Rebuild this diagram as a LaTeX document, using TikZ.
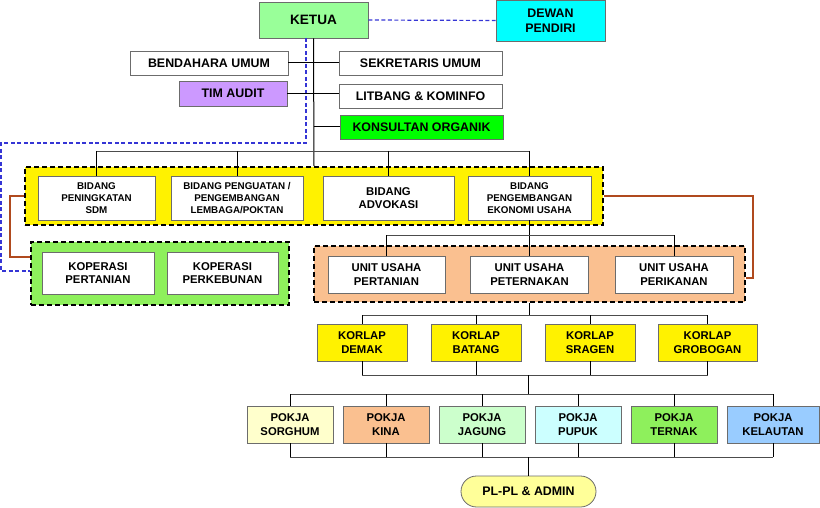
\documentclass[tikz,border=0pt]{standalone}
\usepackage{fontspec}
\setmainfont{Liberation Sans}
\usetikzlibrary{positioning}

\definecolor{ketuagreen}{HTML}{99FF99}
\definecolor{dewancyan}{HTML}{00FFFF}
\definecolor{auditpurple}{HTML}{CC99FF}
\definecolor{konsgreen}{HTML}{00FF00}
\definecolor{koplime}{HTML}{8EF05C}
\definecolor{peach}{HTML}{FAC090}
\definecolor{sorghum}{HTML}{FFFFCC}
\definecolor{jagung}{HTML}{CCFFCC}
\definecolor{pupuk}{HTML}{CCFFFF}
\definecolor{kelautan}{HTML}{99CCFF}
\definecolor{plyellow}{HTML}{FFFF99}
\definecolor{linkbrown}{HTML}{B04A1E}
\definecolor{auditblue}{HTML}{3535D5}

\tikzset{
  box/.style={draw=gray!85!black, fill=white, line width=0.8pt, align=center,
    inner sep=0pt, font=\bfseries\fontsize{11.3}{13.5}\selectfont},
  bigtext/.style={font=\bfseries\fontsize{12.4}{15}\selectfont},
  smalltext/.style={font=\bfseries\fontsize{9.8}{12}\selectfont},
  group/.style={draw=black, line width=1.6pt, dash pattern=on 5pt off 3pt, inner sep=0pt},
  bar/.style={draw=gray!60!black, line width=0.8pt},
  spine/.style={draw=black, line width=1pt},
  dewanlink/.style={draw=auditblue, line width=1.2pt, dash pattern=on 4pt off 2.5pt},
  kinlink/.style={draw=linkbrown, line width=1.2pt}
}

\begin{document}
\begin{tikzpicture}[x=1pt, y=-1pt]
    \useasboundingbox (0,0) rectangle (820,508);

    % Ketua and staff
    \node[box, fill=ketuagreen, minimum width=109pt, minimum height=36pt,
      font=\bfseries\fontsize{13.6}{16}\selectfont] (ketua) at (313.5,20) {KETUA};
    \node[box, bigtext, fill=dewancyan, minimum width=109pt, minimum height=41pt] (dewan) at (550.5,20.5) {DEWAN\\PENDIRI};
    \node[box, bigtext, minimum width=158pt, minimum height=24pt] (bendahara) at (209,63) {BENDAHARA UMUM};
    \node[box, bigtext, minimum width=163pt, minimum height=24pt] (sekretaris) at (420.5,63) {SEKRETARIS UMUM};
    \node[box, bigtext, fill=auditpurple, minimum width=108pt, minimum height=25pt] (timaudit) at (233,93.5) {TIM AUDIT};
    \node[box, bigtext, minimum width=163pt, minimum height=24pt] (litbang) at (420.5,96) {LITBANG \& KOMINFO};
    \node[box, bigtext, fill=konsgreen, minimum width=163pt, minimum height=24pt] (konsultan) at (421.5,127) {KONSULTAN ORGANIK};

    % Bidang
    \node[group, fill=yellow, minimum width=578pt, minimum height=58pt] (bidanggroup) at (314,196) {};
    \node[box, smalltext, minimum width=117pt, minimum height=44pt] (b1) at (96.5,198) {BIDANG\\PENINGKATAN\\SDM};
    \node[box, smalltext, minimum width=132pt, minimum height=44pt] (b2) at (237,198) {BIDANG PENGUATAN /\\PENGEMBANGAN\\LEMBAGA/POKTAN};
    \node[box, minimum width=131pt, minimum height=44pt] (b3) at (388.5,198) {BIDANG\\ADVOKASI};
    \node[box, smalltext, minimum width=123pt, minimum height=44pt] (b4) at (529.5,198) {BIDANG\\PENGEMBANGAN\\EKONOMI USAHA};

    % Koperasi
    \node[group, fill=koplime, minimum width=258pt, minimum height=63pt] (kopgroup) at (160,273.5) {};
    \node[box, minimum width=112pt, minimum height=42pt] (kop1) at (98,273) {KOPERASI\\PERTANIAN};
    \node[box, minimum width=111pt, minimum height=42pt] (kop2) at (222.5,273) {KOPERASI\\PERKEBUNAN};

    % Unit usaha
    \node[group, fill=peach, minimum width=431pt, minimum height=56pt] (unitgroup) at (529.5,274) {};
    \node[box, minimum width=117pt, minimum height=37pt] (uu1) at (386.5,274.5) {UNIT USAHA\\PERTANIAN};
    \node[box, minimum width=118pt, minimum height=37pt] (uu2) at (529.5,274.5) {UNIT USAHA\\PETERNAKAN};
    \node[box, minimum width=118pt, minimum height=37pt] (uu3) at (674,274.5) {UNIT USAHA\\PERIKANAN};

    % Korlap
    \node[box, fill=yellow, minimum width=90pt, minimum height=37pt] (k1) at (362,342.5) {KORLAP\\DEMAK};
    \node[box, fill=yellow, minimum width=90pt, minimum height=37pt] (k2) at (476,342.5) {KORLAP\\BATANG};
    \node[box, fill=yellow, minimum width=90pt, minimum height=37pt] (k3) at (590,342.5) {KORLAP\\SRAGEN};
    \node[box, fill=yellow, minimum width=99pt, minimum height=37pt] (k4) at (707.5,342.5) {KORLAP\\GROBOGAN};

    % Pokja
    \node[box, fill=sorghum, minimum width=86pt, minimum height=37pt] (p1) at (290,424.5) {POKJA\\SORGHUM};
    \node[box, fill=peach, minimum width=86pt, minimum height=37pt] (p2) at (386,424.5) {POKJA\\KINA};
    \node[box, fill=jagung, minimum width=86pt, minimum height=37pt] (p3) at (482,424.5) {POKJA\\JAGUNG};
    \node[box, fill=pupuk, minimum width=86pt, minimum height=37pt] (p4) at (578,424.5) {POKJA\\PUPUK};
    \node[box, fill=koplime, minimum width=86pt, minimum height=37pt] (p5) at (674,424.5) {POKJA\\TERNAK};
    \node[box, fill=kelautan, minimum width=92pt, minimum height=37pt] (p6) at (773,424.5) {POKJA\\KELAUTAN};

    % PL-PL
    \node[box, bigtext, fill=plyellow, minimum width=135pt, minimum height=31pt, rounded corners=15.5pt] (pl) at (528.5,491.5) {PL-PL \& ADMIN};

    % Ketua lines
    \draw[dewanlink] (ketua.east) -- (dewan.west);
    \draw[dewanlink] (306,38) -- (306,143) -- (1,143) -- (1,271) -- (kopgroup.west |- 0,271);
    \draw[spine] (ketua.south) -- (bidanggroup.north);
    \draw[spine] (bendahara.east) -- (sekretaris.west);
    \draw[spine] (timaudit.east) -- (timaudit.east -| litbang.west);
    \draw[spine] (konsultan.west -| ketua.south) -- (konsultan.west);

    % Bidang lines
    \draw[bar] (b1.north |- 0,151) -- (b4.north |- 0,151);
    \foreach \b in {b1,b2,b3,b4}
      \draw[spine] (\b.north |- 0,151) -- (\b.north);
    \draw[kinlink] (bidanggroup.west) -- (10,196) |- (kopgroup.west |- 0,257);
    \draw[kinlink] (bidanggroup.east) -- (753,196) |- (unitgroup.east |- 0,278);

    % Unit usaha lines
    \draw[spine] (b4.south) -- (uu2.north);
    \draw[bar] (uu1.north |- 0,235) -- (uu3.north |- 0,235);
    \draw[spine] (uu1.north |- 0,235) -- (uu1.north);
    \draw[spine] (uu3.north |- 0,235) -- (uu3.north);

    % Korlap lines
    \draw[spine] (unitgroup.south) -- (529.5,315);
    \draw[bar] (k1.north |- 0,315) -- (k4.north |- 0,315);
    \draw[bar] (k1.south |- 0,375) -- (k4.south |- 0,375);
    \foreach \k in {k1,k2,k3,k4} {
      \draw[spine] (\k.north |- 0,315) -- (\k.north);
      \draw[spine] (\k.south) -- (\k.south |- 0,375);
    }

    % Pokja lines
    \draw[spine] (528.5,375) -- (528.5,394);
    \draw[bar] (p1.north |- 0,394) -- (p6.north |- 0,394);
    \draw[bar] (p1.south |- 0,457) -- (p6.south |- 0,457);
    \foreach \p in {p1,p2,p3,p4,p5,p6} {
      \draw[spine] (\p.north |- 0,394) -- (\p.north);
      \draw[spine] (\p.south) -- (\p.south |- 0,457);
    }
    \draw[spine] (pl.north |- 0,457) -- (pl.north);
  \end{tikzpicture}
\end{document}
